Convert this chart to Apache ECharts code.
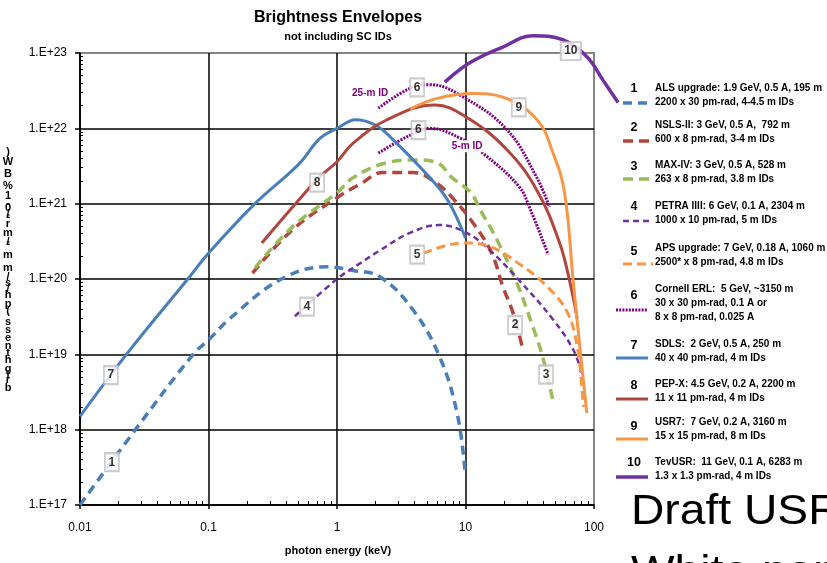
<!DOCTYPE html>
<html><head><meta charset="utf-8">
<script src="https://cdn.jsdelivr.net/npm/echarts@6/dist/echarts.min.js"></script>
<style>html,body{margin:0;padding:0;background:#fff}#c{width:827px;height:563px}</style>
</head><body><div id="c"></div>
<script>
// ---------------- data (photon energy keV, brightness) ----------------
const alsE   = [0.01, 0.027, 0.076, 0.1, 0.147, 0.37, 0.84, 1.33, 2.16, 3.9, 6.3, 8.6, 9.9];
const alsB   = [1e17, 1e18, 1e19, 1.55e19, 3e19, 1e20, 1.45e20, 1.3e20, 1.07e20, 3.9e19, 9.2e18, 1.66e18, 2.9e17];
const nslsE  = [0.22, 0.45, 1.0, 1.5, 2.3, 3.9, 6.0, 7.9, 11.5, 16, 19.5, 23.5, 27.5];
const nslsB  = [1.2e20, 4.5e20, 1.2e21, 1.8e21, 2.6e21, 2.6e21, 1.85e21, 1.2e21, 5.5e20, 2.2e20, 8e19, 3.5e19, 1.3e19];
const maxE   = [0.23, 0.455, 1.0, 1.33, 2.45, 4.2, 6.0, 7.9, 11, 13, 17.6, 25, 33.5, 40, 48];
const maxB   = [1.4e20, 5e20, 1.4e21, 2.2e21, 3.5e21, 3.8e21, 3.5e21, 2.2e21, 1.4e21, 8.3e20, 3.3e20, 9e19, 2.3e19, 9e18, 2.4e18];
const petraE = [0.47, 1.0, 1.5, 2.16, 3.7, 6.3, 10.2, 15.5, 26, 48, 69, 80];
const petraB = [3.2e19, 1e20, 1.6e20, 2.4e20, 4.1e20, 5.2e20, 4.1e20, 2.4e20, 9.7e19, 2.9e19, 1.15e19, 5.7e18];
const apsE   = [4.7, 7.2, 10.2, 15.5, 26, 43, 62, 74, 82, 83];
const apsB   = [2.2e20, 2.8e20, 3e20, 2.7e20, 1.6e20, 8e19, 3.6e19, 1.26e19, 2.5e18, 2e18];
const erlHiE = [2.1, 3.7, 5.3, 9.6, 21, 36, 45];
const erlHiB = [1.85e22, 3.4e22, 3.8e22, 2.6e22, 9.6e21, 2.2e21, 9e20];
const erlLoE = [2.1, 3.7, 5.3, 9.1, 13.6, 26, 32, 44];
const erlLoB = [4.7e21, 8.1e21, 1e22, 7.4e21, 4.7e21, 1.7e21, 8.3e20, 2.1e20];
const sdlsE  = [0.01, 0.023, 0.069, 0.1, 0.23, 0.5, 0.74, 1.0, 1.4, 2.0, 2.7, 5.3, 7.3, 10];
const sdlsB  = [1.5e18, 1e19, 1e20, 2.2e20, 1e21, 3.3e21, 7.4e21, 1e22, 1.3e22, 1.1e22, 7.2e21, 2.2e21, 1.1e21, 3.5e20];
const pepxE  = [0.26, 0.5, 0.74, 1.0, 1.33, 2.45, 5.8, 10.2, 21, 36, 54, 65, 74];
const pepxB  = [3e20, 1.1e21, 2.3e21, 3.6e21, 6.3e21, 1.3e22, 2.04e22, 1.4e22, 5.2e21, 1.5e21, 3e20, 9e19, 3e19];
const usr7E  = [3.7, 6.0, 11.5, 19.5, 36, 48, 59, 69, 78, 88];
const usr7B  = [1.8e22, 2.5e22, 2.9e22, 2.6e22, 1.3e22, 4.7e21, 1.4e21, 9e19, 1.15e19, 1.66e18];
const tevE   = [6.9, 10.8, 19.5, 33.5, 57, 88, 117, 154];
const tevB   = [4.1e22, 7.4e22, 1.2e23, 1.7e23, 1.5e23, 8.9e22, 4.4e22, 2.2e22];

// curve number boxes
const boxText = ['1', '7', '4', '8', '5', '2', '3', '6', '6', '9', '10'];
const boxE    = [0.0177, 0.0174, 0.585, 0.70, 4.2, 24.3, 42.3, 4.2, 4.3, 26, 66];
const boxB    = [3.7e17, 5.3e18, 4.3e19, 1.9e21, 2.1e20, 2.45e19, 5.4e18, 3.5e22, 9.5e21, 1.9e22, 1.06e23];
// ID-length annotations for Cornell ERL
const idText = ['25-m ID', '5-m ID'];
const idE    = [1.81, 10.3];
const idB    = [2.95e22, 5.8e21];

const xTickLabels = ['0.01', '0.1', '1', '10', '100'];
const yTickLabels = ['1.E+17', '1.E+18', '1.E+19', '1.E+20', '1.E+21', '1.E+22', '1.E+23'];

const legendItems = [
  {n:'1',  lines:['ALS upgrade: 1.9 GeV, 0.5 A, 195 m', '2200 x 30 pm-rad, 4-4.5 m IDs']},
  {n:'2',  lines:['NSLS-II: 3 GeV, 0.5 A,  792 m', '600 x 8 pm-rad, 3-4 m IDs']},
  {n:'3',  lines:['MAX-IV: 3 GeV, 0.5 A, 528 m', '263 x 8 pm-rad, 3.8 m IDs']},
  {n:'4',  lines:['PETRA IIII: 6 GeV, 0.1 A, 2304 m', '1000 x 10 pm-rad, 5 m IDs']},
  {n:'5',  lines:['APS upgrade: 7 GeV, 0.18 A, 1060 m', '2500* x 8 pm-rad, 4.8 m IDs']},
  {n:'6',  lines:['Cornell ERL:  5 GeV, ~3150 m', '30 x 30 pm-rad, 0.1 A or', '8 x 8 pm-rad, 0.025 A']},
  {n:'7',  lines:['SDLS:  2 GeV, 0.5 A, 250 m', '40 x 40 pm-rad, 4 m IDs']},
  {n:'8',  lines:['PEP-X: 4.5 GeV, 0.2 A, 2200 m', '11 x 11 pm-rad, 4 m IDs']},
  {n:'9',  lines:['USR7:  7 GeV, 0.2 A, 3160 m', '15 x 15 pm-rad, 8 m IDs']},
  {n:'10', lines:['TevUSR:  11 GeV, 0.1 A, 6283 m', '1.3 x 1.3 pm-rad, 4 m IDs']}
];

// ---------------- styles ----------------
const F  = "'Liberation Sans', Arial, sans-serif";
const C = {blue:'#4a7ebb', red:'#b0463f', green:'#9bbb59', purple:'#7030a0', orange:'#f79646', erl:'#800080'};
const ST = {
  als:   {color:C.blue,   width:3.5, type:[9,6]},
  nsls:  {color:C.red,    width:3.5, type:[10,6]},
  max:   {color:C.green,  width:3.5, type:[10,6]},
  petra: {color:C.purple, width:2.5, type:[6,4]},
  aps:   {color:C.orange, width:3,   type:[9,5]},
  erl:   {color:C.erl,    width:3,   type:[2,1.2]},
  sdls:  {color:C.blue,   width:3,   type:'solid'},
  pepx:  {color:C.red,    width:3,   type:'solid'},
  usr7:  {color:C.orange, width:3,   type:'solid'},
  tev:   {color:C.purple, width:3.5, type:'solid'}
};
const legendStyles = [ST.als, ST.nsls, ST.max, ST.petra, ST.aps, ST.erl, ST.sdls, ST.pepx, ST.usr7, ST.tev];

function zip(e, b) { return e.map((x, i) => [x, b[i]]); }
function line(name, e, b, st, extra) {
  return Object.assign({
    name, type:'line', data: zip(e, b), smooth: 0.4, showSymbol:false, symbol:'none',
    lineStyle:{color:st.color, width:st.width, type:st.type, cap:'butt'},
    itemStyle:{color:st.color}, animation:false, silent:true
  }, extra || {});
}

const minorX = [];
for (let d = -2; d < 2; d++) for (let m = 2; m <= 9; m++) minorX.push(+(m * Math.pow(10, d)).toPrecision(3));
const minorY = [];
for (let d = 17; d < 23; d++) for (let m = 2; m <= 9; m++) minorY.push(m * Math.pow(10, d));

// ---------------- graphics (titles, legend, y name) ----------------
const mctx = document.createElement('canvas').getContext('2d');
const graphics = [];
graphics.push({type:'text', x:338, y:18, style:{text:'Brightness Envelopes', font:"bold 16px " + F, fill:'#000', align:'center', verticalAlign:'middle'}});
graphics.push({type:'text', x:338, y:37, style:{text:'not including SC IDs', font:"bold 11px " + F, fill:'#000', align:'center', verticalAlign:'middle'}});
graphics.push({type:'text', x:338, y:551, style:{text:'photon energy (keV)', font:"bold 11px " + F, fill:'#000', align:'center', verticalAlign:'middle'}});
graphics.push({type:'text', x:631, y:512, scaleX:1.1, style:{text:'Draft USR', font:"42px " + F, fill:'#000', align:'left', verticalAlign:'middle'}});
graphics.push({type:'text', x:631, y:573, scaleX:1.1, style:{text:'White paper', font:"42px " + F, fill:'#000', align:'left', verticalAlign:'middle'}});

// stacked y-axis name (glyphs upright, running bottom to top)
(function () {
  const txt = 'brightness (ph/s/mm\u00b2/mr\u00b2/0.1%BW)';
  const font = 'bold 11px ' + F;
  mctx.font = font;
  const w = Array.from(txt).map(ch => mctx.measureText(ch).width);
  const W = w.reduce((a, b) => a + b, 0);
  const top = 150, bottom = 392, k = (bottom - top) / W;
  let cum = 0;
  Array.from(txt).forEach((ch, i) => {
    const p = cum + w[i] / 2; cum += w[i];
    if (ch === ' ') return;
    graphics.push({type:'text', x:8, y: bottom - p * k, style:{text:ch, font, fill:'#000', align:'center', verticalAlign:'middle'}});
  });
})();

// legend
const legFont = 'bold 10.5px ' + F;
mctx.font = legFont;
const legScale = 167 / mctx.measureText(legendItems[0].lines[0]).width;
const legendY = [[89, 88, 103], [128, 125, 141], [167, 165, 179], [207, 206, 221], [252, 248, 264],
                 [296, 289, 310], [346, 344, 358], [386, 384, 399], [427, 422, 439], [463, 462, 477]];
legendItems.forEach((it, i) => {
  const [ny, t1, ly] = legendY[i];
  const x1 = i < 5 ? 623 : 616, x2 = i < 5 ? 653 : 648;
  graphics.push({type:'text', x:634, y:ny, style:{text:it.n, font:'bold 12.5px ' + F, fill:'#000', align:'center', verticalAlign:'middle'}});
  it.lines.forEach((ln, j) => {
    graphics.push({type:'text', x:655, y:t1 + j * 14, scaleX:legScale, style:{text:ln, font:legFont, fill:'#000', align:'left', verticalAlign:'middle'}});
  });
  const st = legendStyles[i];
  graphics.push({type:'line', shape:{x1, y1:ly, x2, y2:ly}, style:{stroke:st.color, lineWidth:st.width, lineDash: st.type === 'solid' ? null : st.type}});
});

// ---------------- chart ----------------
// grid 0: the visible plot (0.01 .. 100 keV). grid 1: same scale, extended half a decade
// to the right so the TevUSR curve can run past 100 keV as in the original.
const plotW = 827 - 80 - 233;
const decadeW = plotW / 4;
const chart = echarts.init(document.getElementById('c'), null, {renderer:'canvas'});
chart.setOption({
  animation:false,
  backgroundColor:'#fff',
  grid:[
    {left:80, right:233, top:53, bottom:58, show:true, borderColor:'#868686', borderWidth:2, backgroundColor:'transparent'},
    {left:80, right:827 - 80 - decadeW * 4.5, top:53, bottom:58, show:false}
  ],
  xAxis:[
    {type:'log', logBase:10, min:0.01, max:100, position:'bottom', gridIndex:0,
     axisLine:{show:true, lineStyle:{color:'#000', width:1.5}},
     axisTick:{show:true, inside:false, length:4, lineStyle:{color:'#000', width:1.5}},
     axisLabel:{show:true, margin:17, fontSize:12, fontFamily:F, color:'#000',
       formatter: v => xTickLabels[Math.round(Math.log10(v)) + 2]},
     splitLine:{show:true, showMaxLine:false, lineStyle:{color:'#000', width:1.5}}},
    {type:'log', logBase:10, min:0.01, max:100, position:'bottom', gridIndex:0,
     axisLine:{show:false}, axisLabel:{show:false}, splitLine:{show:false},
     axisTick:{show:true, inside:true, length:4, customValues:minorX, lineStyle:{color:'#000', width:1}}},
    {type:'log', logBase:10, min:0.01, max:Math.pow(10, 2.5), gridIndex:1, show:false}
  ],
  yAxis:[
    {type:'log', logBase:10, min:1e17, max:1e23, position:'left', gridIndex:0,
     axisLine:{show:true, lineStyle:{color:'#000', width:1.5}},
     axisTick:{show:true, inside:false, length:5, lineStyle:{color:'#000', width:1.5}},
     axisLabel:{show:true, margin:13, fontSize:12, fontFamily:F, color:'#000',
       formatter: v => yTickLabels[Math.round(Math.log10(v)) - 17]},
     splitLine:{show:true, showMaxLine:false, lineStyle:{color:'#000', width:1.5}}},
    {type:'log', logBase:10, min:1e17, max:1e23, position:'left', gridIndex:0,
     axisLine:{show:false}, axisLabel:{show:false}, splitLine:{show:false},
     axisTick:{show:true, inside:true, length:3, customValues:minorY, lineStyle:{color:'#000', width:1}}},
    {type:'log', logBase:10, min:1e17, max:1e23, gridIndex:1, show:false}
  ],
  series:[
    line('ALS upgrade', alsE, alsB, ST.als),
    line('NSLS-II', nslsE, nslsB, ST.nsls),
    line('MAX-IV', maxE, maxB, ST.max),
    line('PETRA IIII', petraE, petraB, ST.petra),
    line('APS upgrade', apsE, apsB, ST.aps),
    line('Cornell ERL 25-m', erlHiE, erlHiB, ST.erl),
    line('Cornell ERL 5-m', erlLoE, erlLoB, ST.erl),
    line('SDLS', sdlsE, sdlsB, ST.sdls),
    line('PEP-X', pepxE, pepxB, ST.pepx),
    line('USR7', usr7E, usr7B, ST.usr7),
    line('TevUSR', tevE, tevB, ST.tev, {clip:false, xAxisIndex:2, yAxisIndex:2}),
    {type:'scatter', name:'ids', clip:false, silent:true, z:5, animation:false,
     data: zip(idE, idB).map((p, i) => ({value:p, name:idText[i]})),
     symbol:'rect', symbolSize:[40, 12], itemStyle:{color:'#fff', opacity:1},
     label:{show:true, position:'inside', formatter: p => p.name, color:'#800080', fontWeight:'bold', fontSize:10, fontFamily:F}},
    {type:'scatter', name:'boxes', clip:false, silent:true, z:6, animation:false,
     data: zip(boxE, boxB).map((p, i) => ({value:p, name:boxText[i], symbolSize:[boxText[i].length > 1 ? 20 : 14, 18]})),
     symbol:'rect', itemStyle:{color:'#fff', borderColor:'#bfbfbf', borderWidth:2},
     label:{show:true, position:'inside', formatter: p => p.name, color:'#000', fontWeight:'bold', fontSize:12, fontFamily:F}}
  ],
  graphic: graphics
});
</script></body></html>
